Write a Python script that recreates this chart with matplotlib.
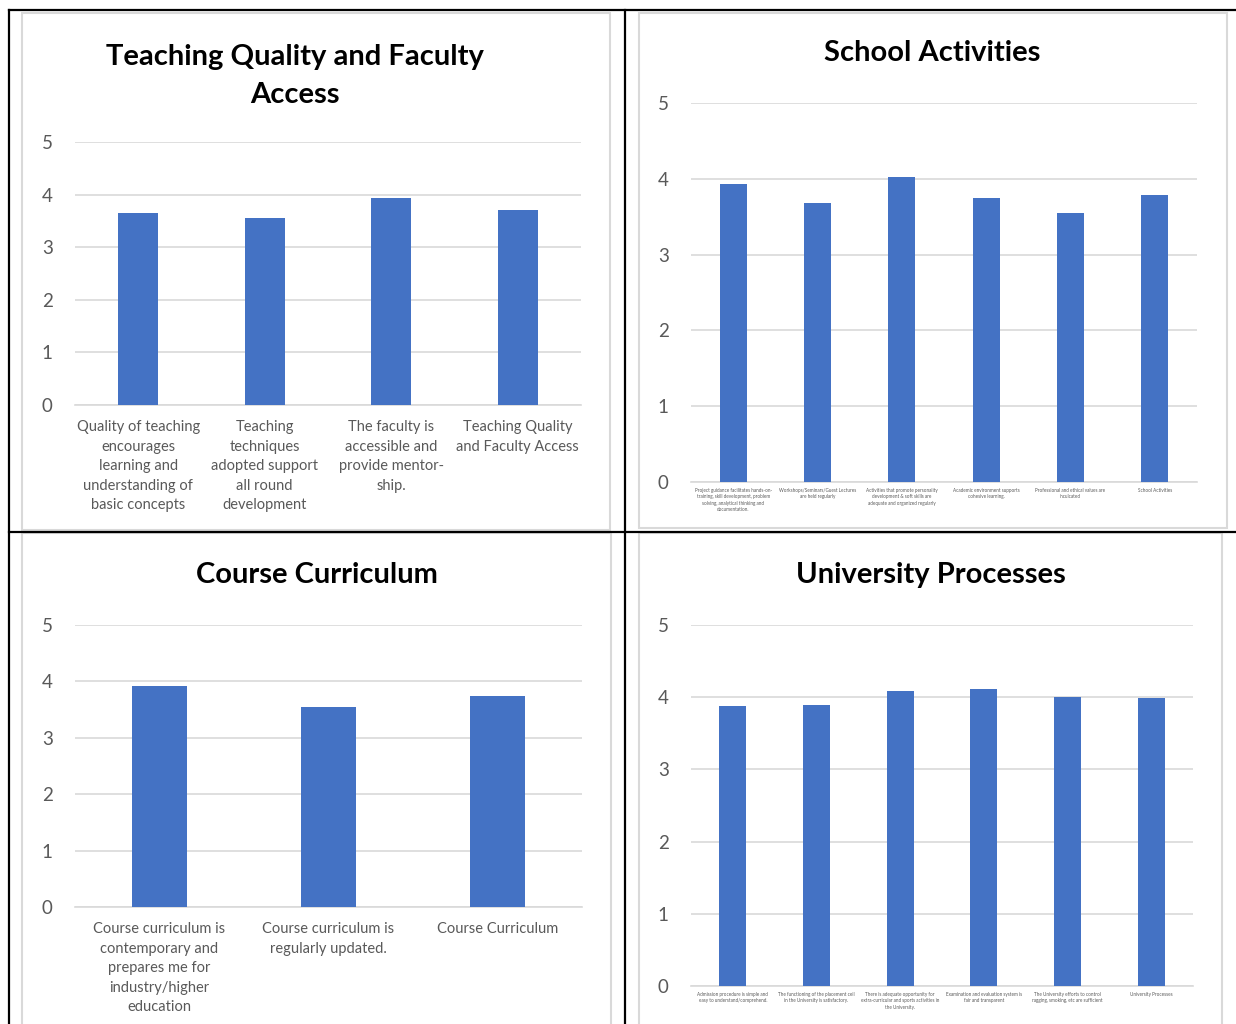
import matplotlib.pyplot as plt
from matplotlib.lines import Line2D
from matplotlib.patches import Rectangle

plt.rcParams['font.family'] = ['Lato', 'DejaVu Sans']

W, H = 1236, 1024
BAR = "#4472C4"
GRID = "#d9d9d9"
TXT = "#595959"

# ---- data ----
teach_labels = ["Quality of teaching\nencourages\nlearning and\nunderstanding of\nbasic concepts",
                "Teaching\ntechniques\nadopted support\nall round\ndevelopment",
                "The faculty is\naccessible and\nprovide mentor-\nship.",
                "Teaching Quality\nand Faculty Access"]
teach_vals = [3.65, 3.56, 3.94, 3.71]

act_labels = ["Project guidance facilitates hands-on-\ntraining, skill development, problem\nsolving, analytical thinking and\ndocumentation.",
              "Workshops/Seminars/Guest Lectures\nare held regularly",
              "Activities that promote personality\ndevelopment & soft skills are\nadequate and organized regularly",
              "Academic environment supports\ncohesive learning.",
              "Professional and ethical values are\ninculcated",
              "School Activities"]
act_vals = [3.93, 3.68, 4.02, 3.75, 3.55, 3.79]

cur_labels = ["Course curriculum is\ncontemporary and\nprepares me for\nindustry/higher\neducation",
              "Course curriculum is\nregularly updated.",
              "Course Curriculum"]
cur_vals = [3.92, 3.55, 3.74]

proc_labels = ["Admission procedure is simple and\neasy to understand/comprehend.",
               "The functioning of the placement cell\nin the University is satisfactory.",
               "There is adequate opportunity for\nextra-curricular and sports activities in\nthe University.",
               "Examination and evaluation system is\nfair and transparent",
               "The University efforts to control\nragging, smoking, etc are sufficient",
               "University Processes"]
proc_vals = [3.88, 3.89, 4.09, 4.11, 4.00, 3.99]


def px_axes(fig, left, top, right, bottom):
    return fig.add_axes([left / W, 1 - bottom / H, (right - left) / W, (bottom - top) / H])


def draw_chart(ax, labels, vals, lab_size, lab_pad, lab_ls):
    x = range(len(vals))
    ax.bar(x, vals, width=0.32, color=BAR, zorder=3)
    ax.set_xlim(-0.5, len(vals) - 0.5)
    ax.set_ylim(0, 5)
    ax.set_yticks(range(6))
    ax.yaxis.grid(True, color=GRID, linewidth=1.2, zorder=0)
    for s in ["top", "right", "left"]:
        ax.spines[s].set_visible(False)
    ax.spines["bottom"].set_color(GRID)
    ax.spines["bottom"].set_linewidth(1.2)
    ax.tick_params(axis="y", length=0, pad=16, labelsize=13.5, labelcolor=TXT)
    ax.tick_params(axis="x", length=0, pad=lab_pad)
    ax.set_xticks(list(x))
    ax.set_xticklabels(labels, fontsize=lab_size, color=TXT, linespacing=lab_ls, va="top")


fig = plt.figure(figsize=(W / 100, H / 100), dpi=100)

# chart frames
for (l, t, r, b) in [(22, 13, 610, 530), (639, 13, 1227, 528), (22, 533, 611, 1030), (639, 533, 1222, 1030)]:
    fig.add_artist(Rectangle((l / W, 1 - b / H), (r - l) / W, (b - t) / H,
                             transform=fig.transFigure, facecolor="white",
                             edgecolor=GRID, linewidth=1.5, zorder=0))

# table lines
for (x0, y0, x1, y1) in [(9, 10, 1236, 10), (9, 10, 9, 1024), (624.5, 10, 624.5, 1024), (9, 532, 1236, 532)]:
    fig.add_artist(Line2D([x0 / W, x1 / W], [1 - y0 / H, 1 - y1 / H], color="black", linewidth=1.6))

ax1 = px_axes(fig, 75, 142, 581, 405)
draw_chart(ax1, teach_labels, teach_vals, 10.5, 11, 1.5)
ax2 = px_axes(fig, 691, 103, 1197, 482)
draw_chart(ax2, act_labels, act_vals, 3.3, 4, 1.4)
ax3 = px_axes(fig, 75, 625, 582, 907)
draw_chart(ax3, cur_labels, cur_vals, 10.5, 11, 1.5)
ax4 = px_axes(fig, 691, 625, 1193, 986)
draw_chart(ax4, proc_labels, proc_vals, 3.3, 4, 1.4)

title_kw = dict(fontsize=21, fontweight="bold", color="black", ha="center", va="center")
fig.text(295 / W, 1 - 76 / H, "Teaching Quality and Faculty\nAccess", linespacing=1.55, **title_kw)
fig.text(932 / W, 1 - 53 / H, "School Activities", **title_kw)
fig.text(317 / W, 1 - 575 / H, "Course Curriculum", **title_kw)
fig.text(931 / W, 1 - 575 / H, "University Processes", **title_kw)

fig.savefig("out.png", dpi=100)
